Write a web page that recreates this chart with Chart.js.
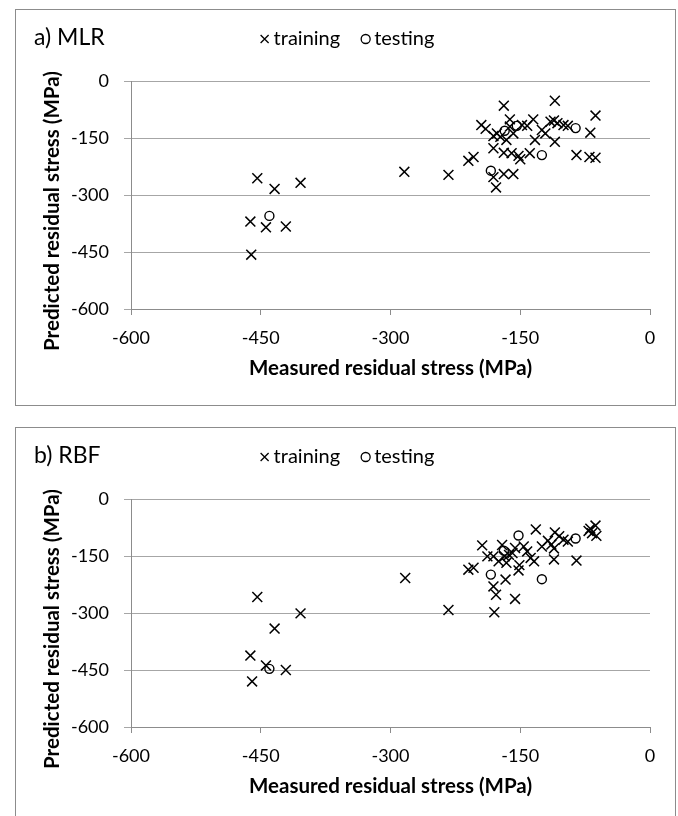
<!DOCTYPE html>
<html>
<head>
<meta charset="utf-8">
<title>Measured vs predicted residual stress</title>
<script src="https://cdn.jsdelivr.net/npm/chart.js@4/dist/chart.umd.min.js"></script>
<style>
  html, body { margin: 0; padding: 0; background: #fff; }
  body { width: 678px; height: 816px; position: relative; overflow: hidden; }
  .panel {
    position: absolute;
    left: 15px;
    width: 661px;
    height: 397px;
    border: 1px solid #8c8c8c;
    box-sizing: border-box;
  }
  .panel canvas { display: block; }
</style>
</head>
<body>
<div class="panel" style="top: 9px"><canvas id="mlrChart" width="659" height="395"></canvas></div>
<div class="panel" style="top: 427px"><canvas id="rbfChart" width="659" height="395"></canvas></div>

<script>
// shared axis ticks (MPa)
const axisTicks = [-600, -450, -300, -150, 0]

// a) MLR - training
const mlrTrainX = [-454, -434, -404, -462, -444, -421, -461, -284, -233, -210, -204,
  -195, -190, -181, -181, -178, -169, -177, -181, -173, -166, -162, -162, -158, -148,
  -142, -135, -133, -125, -121, -115, -111, -107, -100, -95, -69, -110, -110, -169,
  -160, -152, -150, -139, -85, -70, -63, -63, -169, -158]
const mlrTrainY = [-256, -284, -268, -370, -385, -383, -457, -239, -247, -210, -200,
  -116, -126, -177, -253, -280, -65, -138, -145, -147, -155, -101, -120, -138, -116,
  -118, -101, -155, -129, -138, -107, -104, -111, -116, -118, -136, -160, -52, -189,
  -190, -197, -206, -190, -195, -200, -91, -202, -245, -245]
// a) MLR - testing
const mlrTestX = [-440, -184, -168, -154, -125, -86]
const mlrTestY = [-355, -236, -131, -118, -195, -124]

// b) RBF - training
const rbfTrainX = [-454, -404, -434, -462, -444, -421, -460, -283, -233, -210, -204,
  -194, -188, -181, -178, -180, -171, -181, -175, -168, -163, -159, -166, -156, -146,
  -142, -151, -152, -138, -134, -132, -167, -156, -125, -118, -114, -110, -105, -111,
  -111, -100, -95, -85, -71, -69, -63, -67, -62]
const rbfTrainY = [-258, -301, -341, -412, -438, -450, -480, -208, -292, -186, -181,
  -122, -151, -230, -252, -298, -121, -151, -164, -151, -147, -142, -168, -129, -125,
  -138, -174, -188, -155, -164, -80, -212, -263, -125, -110, -120, -88, -98, -130,
  -159, -107, -112, -162, -84, -78, -70, -90, -97]
// b) RBF - testing
const rbfTestX = [-440, -184, -169, -152, -125, -86]
const rbfTestY = [-447, -199, -136, -96, -211, -104]

const xTitle = 'Measured residual stress (MPa)'
const yTitle = 'Predicted residual stress (MPa)'
const gridGray = '#a6a6a6'
const axisGray = '#8c8c8c'
const fontFamily = 'Lato, sans-serif'

function toPoints(xs, ys) {
  return xs.map((x, i) => ({ x: x, y: ys[i] }))
}

// panel label, legend and y title drawn on the canvas
const panelText = {
  id: 'panelText',
  afterDraw(chart, args, opts) {
    const ctx = chart.ctx
    const w = chart.width
    ctx.save()
    ctx.fillStyle = '#000'
    ctx.strokeStyle = '#000'
    ctx.textBaseline = 'middle'
    ctx.textAlign = 'left'

    ctx.font = '23px ' + fontFamily
    ctx.fillText(opts.label, 18, 28)

    // legend row
    ctx.font = '20px ' + fontFamily
    const names = chart.data.datasets.map(d => d.label)
    const markW = 9, gapIn = 4, gapOut = 21
    const textW = names.map(n => ctx.measureText(n).width)
    const total = markW * 2 + gapIn * 2 + gapOut + textW[0] + textW[1]
    let cx = w / 2 + 2 - total / 2
    const ly = 29
    ctx.lineWidth = 1.3
    // cross
    ctx.beginPath()
    ctx.moveTo(cx, ly - 4); ctx.lineTo(cx + 8, ly + 4)
    ctx.moveTo(cx + 8, ly - 4); ctx.lineTo(cx, ly + 4)
    ctx.stroke()
    cx += markW + gapIn
    ctx.fillText(names[0], cx, ly)
    cx += textW[0] + gapOut
    // circle
    ctx.beginPath()
    ctx.arc(cx + 4.5, ly, 4.5, 0, Math.PI * 2)
    ctx.stroke()
    cx += markW + gapIn
    ctx.fillText(names[1], cx, ly)

    // vertical axis title
    ctx.font = 'bold 20.5px ' + fontFamily
    ctx.translate(36, 201)
    ctx.rotate(-Math.PI / 2)
    ctx.textAlign = 'center'
    ctx.fillText(yTitle, 0, 0)
    ctx.restore()
  },
}

function makeChart(id, label, trainX, trainY, testX, testY) {
  const ctx = document.getElementById(id).getContext('2d')
  return new Chart(ctx, {
    type: 'scatter',
    data: {
      datasets: [
        {
          label: 'training',
          data: toPoints(trainX, trainY),
          pointStyle: 'crossRot',
          radius: 7,
          borderColor: '#000',
          borderWidth: 1.5,
        },
        {
          label: 'testing',
          data: toPoints(testX, testY),
          pointStyle: 'circle',
          radius: 4.5,
          backgroundColor: 'rgba(0, 0, 0, 0)',
          borderColor: '#000',
          borderWidth: 1.4,
        },
      ],
    },
    options: {
      responsive: false,
      animation: false,
      events: [],
      layout: {
        padding: { top: 71, right: 25, bottom: 0, left: 0 },
      },
      plugins: {
        legend: { display: false },
        tooltip: { enabled: false },
        panelText: { label: label },
      },
      scales: {
        x: {
          type: 'linear',
          min: -600,
          max: 0,
          afterBuildTicks: (scale) => {
            scale.ticks = axisTicks.map(v => ({ value: v }))
          },
          afterFit: (scale) => {
            scale.height = 96
          },
          grid: {
            drawOnChartArea: false,
            tickLength: 6,
            color: axisGray,
          },
          border: { color: axisGray },
          ticks: {
            padding: 12,
            maxRotation: 0,
            autoSkip: false,
            color: '#000',
            font: { size: 18 },
          },
          title: {
            display: true,
            text: xTitle,
            color: '#000',
            font: { size: 20.5, weight: 'bold' },
            padding: { top: 0, bottom: 24 },
          },
        },
        y: {
          type: 'linear',
          min: -600,
          max: 0,
          afterBuildTicks: (scale) => {
            scale.ticks = axisTicks.map(v => ({ value: v }))
          },
          afterFit: (scale) => {
            scale.width = 115
          },
          grid: {
            color: gridGray,
            tickLength: 7,
          },
          border: { color: axisGray },
          ticks: {
            padding: 15,
            color: '#000',
            font: { size: 18 },
          },
        },
      },
    },
    plugins: [panelText],
  })
}

function drawAll() {
  Chart.defaults.font.family = fontFamily
  Chart.defaults.color = '#000'
  makeChart('mlrChart', 'a) MLR', mlrTrainX, mlrTrainY, mlrTestX, mlrTestY)
  makeChart('rbfChart', 'b) RBF', rbfTrainX, rbfTrainY, rbfTestX, rbfTestY)
}

Promise.all([
  document.fonts.load('18px Lato'),
  document.fonts.load('bold 20px Lato'),
]).then(drawAll, drawAll)
</script>
</body>
</html>
